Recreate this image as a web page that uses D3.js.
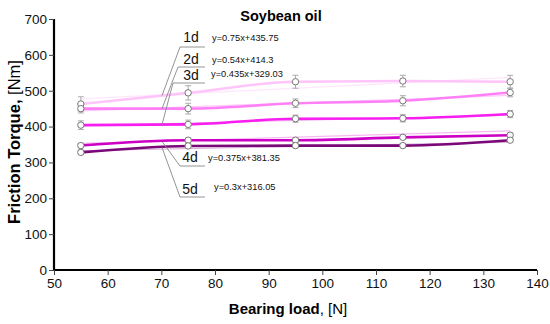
<!DOCTYPE html>
<html><head><meta charset="utf-8">
<script src="https://cdn.jsdelivr.net/npm/d3@7"></script>
<style>body{margin:0;background:#fff}svg{display:block}text{font-family:Arial,"Liberation Sans",sans-serif}</style>
</head><body>
<div id="chart"></div>
<script>
const loads = [55, 75, 95, 115, 135];
const seriesNames = ["1d", "2d", "3d", "4d", "5d"];
const s1d = [463, 494, 525, 527, 525];
const s2d = [450, 450, 465, 472, 495];
const s3d = [404, 406, 422, 423, 435];
const s4d = [347, 362, 362, 370, 376];
const s5d = [328, 346, 347, 347, 362];
const e1d = [20, 20, 18, 16, 18];
const e2d = [12, 15, 12, 14, 12];
const e3d = [12, 12, 10, 10, 10];
const e4d = [6, 6, 6, 6, 6];
const e5d = [6, 6, 6, 6, 6];
const slopes = [0.75, 0.54, 0.435, 0.375, 0.3];
const intercepts = [435.75, 414.3, 329.03, 381.35, 316.05];
const equations = ["y=0.75x+435.75", "y=0.54x+414.3", "y=0.435x+329.03", "y=0.375x+381.35", "y=0.3x+316.05"];
const colors = ["#ffc4fa", "#ff80f6", "#f81ef0", "#cc00c4", "#7a0878"];
const trendColors = ["#ffe6fd", "#ffc8fb", "#f8b8f4", "#f0b0ee", "#d8b0d8"];
const xTicks = [50, 60, 70, 80, 90, 100, 110, 120, 130, 140];
const yTicks = [0, 100, 200, 300, 400, 500, 600, 700];
const values = [s1d, s2d, s3d, s4d, s5d];
const errs = [e1d, e2d, e3d, e4d, e5d];

const W = 550, H = 324;
const m = {left: 54, right: 13, top: 19, bottom: 54};
const svg = d3.select("#chart").append("svg").attr("width", W).attr("height", H);
const x = d3.scaleLinear().domain([50, 140]).range([m.left, W - m.right]);
const y = d3.scaleLinear().domain([0, 700]).range([H - m.bottom, m.top]);

// axes
const xa = svg.append("g").attr("transform", `translate(0,${H - m.bottom})`)
  .call(d3.axisBottom(x).tickValues(xTicks).tickSize(5).tickPadding(3));
const ya = svg.append("g").attr("transform", `translate(${m.left},0)`)
  .call(d3.axisLeft(y).tickValues(yTicks).tickSize(5).tickPadding(2));
[xa, ya].forEach(a => {
  a.select(".domain").attr("stroke", "#000").attr("stroke-width", 2.2);
  a.selectAll(".tick line").attr("stroke", "#444").attr("stroke-width", 1);
  a.selectAll(".tick text").attr("font-size", 13.5).attr("fill", "#111").attr("font-family", "Arial, 'Liberation Sans', sans-serif");
});
ya.select(".domain").attr("d", `M0,${y(700)}V${y(0)}`);
xa.select(".domain").attr("d", `M${x(50)},0H${x(140)}`);

// title
svg.append("text").attr("x", 281).attr("y", 21).attr("text-anchor", "middle")
  .attr("font-size", 14.5).attr("font-weight", "bold").text("Soybean oil");

// axis titles
const xt = svg.append("text").attr("x", 288).attr("y", 314).attr("text-anchor", "middle").attr("font-size", 15);
xt.append("tspan").attr("font-weight", "bold").text("Bearing load");
xt.append("tspan").text(", [N]");
const yt = svg.append("text").attr("transform", "translate(20,142) rotate(-90)").attr("text-anchor", "middle").attr("font-size", 16.5);
yt.append("tspan").attr("font-weight", "bold").text("Friction Torque,");
yt.append("tspan").text(" [Nm]");

// trend lines
seriesNames.forEach((n, i) => {
  svg.append("line")
    .attr("x1", x(loads[0])).attr("x2", x(loads[4]))
    .attr("y1", y(slopes[i] * loads[0] + intercepts[i]))
    .attr("y2", y(slopes[i] * loads[4] + intercepts[i]))
    .attr("stroke", trendColors[i]).attr("stroke-width", 1.2);
});

// data lines
const line = d3.line().curve(d3.curveMonotoneX).x(d => x(d[0])).y(d => y(d[1]));
[4, 3, 2, 1, 0].forEach(i => {
  const pts = loads.map((l, j) => [l, values[i][j]]);
  svg.append("path").attr("d", line(pts)).attr("fill", "none")
    .attr("stroke", colors[i]).attr("stroke-width", 2.6);
});

// error bars and markers
seriesNames.forEach((n, i) => {
  loads.forEach((l, j) => {
    const cx = x(l), v = values[i][j], e = errs[i][j];
    const g = svg.append("g").attr("stroke", "#aaa").attr("stroke-width", 1);
    g.append("line").attr("x1", cx).attr("x2", cx).attr("y1", y(v + e)).attr("y2", y(v - e));
    g.append("line").attr("x1", cx - 3).attr("x2", cx + 3).attr("y1", y(v + e)).attr("y2", y(v + e));
    g.append("line").attr("x1", cx - 3).attr("x2", cx + 3).attr("y1", y(v - e)).attr("y2", y(v - e));
  });
});
seriesNames.forEach((n, i) => {
  loads.forEach((l, j) => {
    svg.append("circle").attr("cx", x(l)).attr("cy", y(values[i][j])).attr("r", 3.2)
      .attr("fill", "#fff").attr("stroke", "#777").attr("stroke-width", 1);
  });
});

// labels with leader lines
const labelPos = [
  {tx: 191, ty: 42, uy: 47, ux1: 180, lx: 162, eqx: 212, eqy: 41},
  {tx: 191, ty: 64, uy: 67, ux1: 178, lx: 162, eqx: 212, eqy: 63},
  {tx: 191, ty: 80, uy: 83, ux1: 173, lx: 162, eqx: 211, eqy: 77},
  {tx: 190, ty: 162, uy: 166, ux1: 180, lx: 162, eqx: 208, eqy: 161},
  {tx: 190, ty: 194, uy: 197, ux1: 180, lx: 162, eqx: 214, eqy: 190}
];
const lineInterp = (i, xv) => {
  const pts = loads.map((l, j) => [l, values[i][j]]);
  for (let k = 0; k < pts.length - 1; k++) {
    if (xv >= pts[k][0] && xv <= pts[k + 1][0]) {
      const t = (xv - pts[k][0]) / (pts[k + 1][0] - pts[k][0]);
      return pts[k][1] + t * (pts[k + 1][1] - pts[k][1]);
    }
  }
  return pts[0][1];
};
labelPos.forEach((p, i) => {
  const lx = p.lx, lv = lineInterp(i, x.invert(lx));
  svg.append("path")
    .attr("d", `M205,${p.uy}H${p.ux1}L${lx},${y(lv)}`)
    .attr("fill", "none").attr("stroke", "#888").attr("stroke-width", 0.9);
  svg.append("text").attr("x", p.tx).attr("y", p.ty).attr("text-anchor", "middle")
    .attr("font-size", 14).attr("fill", "#111").text(seriesNames[i]);
  svg.append("text").attr("x", p.eqx).attr("y", p.eqy)
    .attr("font-size", 9.3).attr("fill", "#111").text(equations[i]);
});
</script>
</body></html>
